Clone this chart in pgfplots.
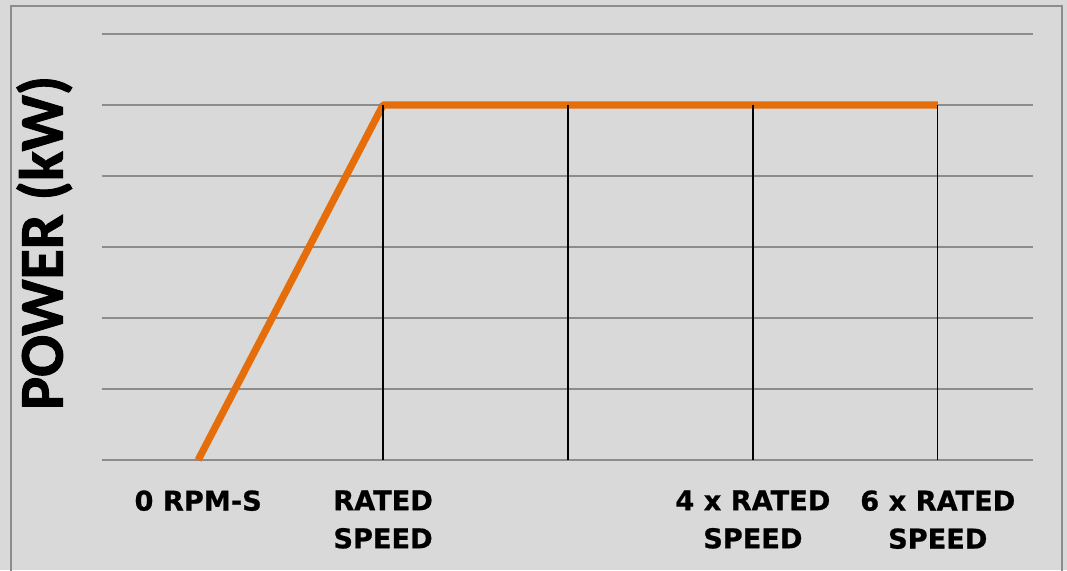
\documentclass[border=0pt]{standalone}
\usepackage{pgfplots}
\pgfplotsset{compat=1.18}
\usepackage{fontspec}
\newfontfamily\labfont{DejaVu Sans Bold}[FakeBold=0.8]
\newfontfamily\ylabfont{Carlito Bold}[FakeBold=1.5]
\definecolor{bg}{HTML}{D9D9D9}
\definecolor{gridc}{HTML}{8C8C8C}
\definecolor{orng}{HTML}{E56E0B}
\begin{document}
\begin{tikzpicture}
\useasboundingbox (0pt,0pt) rectangle (533.5pt,285pt);
\fill[bg] (0pt,0pt) rectangle (533.5pt,285pt);
\draw[gridc, line width=1pt] (5.5pt,-5pt) -- (5.5pt,282pt) -- (531pt,282pt) -- (531pt,-5pt);
\begin{axis}[
  at={(51pt,55pt)}, anchor=south west,
  scale only axis, width=465.5pt, height=213pt,
  xmin=-0.52, xmax=4.515, ymin=0, ymax=6,
  axis x line=bottom, axis y line=left,
  x axis line style={gridc, line width=0.9pt, -},
  y axis line style={draw=none},
  xtick={0,1,2,3,4},
  xticklabels={0 RPM-S, RATED\\SPEED, {}, 4 x RATED\\SPEED, 6 x RATED\\SPEED},
  xticklabel style={font=\labfont\fontsize{13.6}{19}\selectfont, align=center, anchor=north, inner sep=0pt, yshift=-15pt},
  major tick length=0pt,
  ytick={0,1,2,3,4,5,6}, yticklabels={},
  ymajorgrids, grid style={gridc, line width=0.9pt},
  clip=false,
  ylabel={POWER (kW)},
  ylabel style={font=\ylabfont\fontsize{31}{31}\selectfont, at={(axis description cs:-0.062,0.51)}, anchor=center, rotate=0},
]
\addplot[orng, line width=3.6pt, line join=round] coordinates {(0,0) (1,5) (2,5) (3,5) (4,5)};
\addplot[ycomb, black, line width=0.65pt, mark=none] coordinates {(1,5) (2,5) (3,5) (4,5)};
\end{axis}
\end{tikzpicture}
\end{document}
